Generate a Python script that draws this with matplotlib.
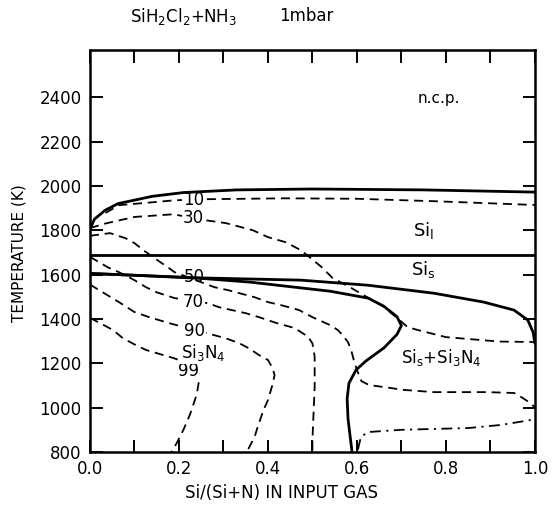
import matplotlib
matplotlib.use('Agg')
import matplotlib.pyplot as plt
from matplotlib.ticker import FixedLocator, FuncFormatter

plt.rcParams['font.family'] = ['DejaVu Sans']

# phase boundaries (solid)
liq_x = [0.0, 0.01, 0.034, 0.063, 0.14, 0.21, 0.33, 0.5, 0.75, 1.0]
liq_T = [1805, 1850, 1890, 1920, 1953, 1970, 1982, 1986, 1982, 1972]

melt_T = 1690

sis_x = [0.0, 0.1, 0.25, 0.474, 0.625, 0.773, 0.885, 0.953, 0.984, 0.996, 1.0]
sis_T = [1605, 1597, 1585, 1575, 1552, 1516, 1476, 1440, 1395, 1340, 1290]

nose_x = [0.0, 0.1, 0.25, 0.36, 0.54, 0.625, 0.66, 0.69, 0.70, 0.69, 0.661, 0.62, 0.598, 0.582, 0.578, 0.58, 0.589]
nose_T = [1605, 1597, 1583, 1566, 1525, 1494, 1458, 1410, 1370, 1330, 1270, 1210, 1170, 1110, 1040, 950, 800]

# yield contours (dashed)
c10_x = [0.035, 0.065, 0.14, 0.19, 0.26, 0.44, 0.6, 0.773, 1.0]
c10_T = [1878, 1913, 1926, 1935, 1940, 1944, 1942, 1931, 1914]

c30_x = [0.0, 0.036, 0.1, 0.187, 0.26, 0.306, 0.366, 0.40, 0.44, 0.474, 0.50, 0.52, 0.545, 0.587,
         0.63, 0.66, 0.69, 0.714, 0.737, 0.80, 0.92, 1.0]
c30_T = [1810, 1831, 1860, 1872, 1845, 1832, 1800, 1769, 1746, 1710, 1668, 1635, 1585, 1540,
         1490, 1455, 1405, 1363, 1350, 1318, 1298, 1296]

c50_x = [0.0, 0.045, 0.08, 0.1, 0.12, 0.145, 0.175, 0.19, 0.28, 0.31, 0.37, 0.40, 0.43, 0.47,
         0.50, 0.54, 0.557, 0.568, 0.58, 0.587, 0.593, 0.60, 0.61, 0.627, 0.66, 0.705, 0.773,
         0.894, 0.953, 0.962, 0.99, 1.0]
c50_T = [1775, 1787, 1764, 1742, 1710, 1674, 1633, 1611, 1543, 1530, 1498, 1476, 1462, 1440,
         1408, 1372, 1350, 1327, 1295, 1260, 1214, 1170, 1120, 1102, 1093, 1080, 1070,
         1070, 1066, 1057, 1021, 1000]

c70_x = [0.0, 0.04, 0.065, 0.1, 0.126, 0.15, 0.19, 0.265, 0.29, 0.35, 0.38, 0.42, 0.46, 0.49,
         0.50, 0.505, 0.505, 0.505, 0.502, 0.50, 0.50]
c70_T = [1680, 1633, 1611, 1575, 1543, 1520, 1494, 1471, 1453, 1426, 1408, 1381, 1359, 1320,
         1290, 1230, 1170, 1093, 950, 854, 800]

c90_x = [0.0, 0.065, 0.1, 0.133, 0.178, 0.305, 0.335, 0.357, 0.38, 0.40, 0.41, 0.415, 0.41,
         0.40, 0.39, 0.377, 0.37, 0.357, 0.353]
c90_T = [1555, 1476, 1431, 1408, 1381, 1313, 1291, 1268, 1237, 1215, 1180, 1147, 1102,
         1034, 989, 913, 868, 818, 800]

c99_x = [0.0, 0.052, 0.074, 0.103, 0.126, 0.187, 0.235, 0.245, 0.24, 0.225, 0.21, 0.195, 0.183]
c99_T = [1405, 1350, 1313, 1282, 1260, 1224, 1190, 1120, 1060, 970, 900, 840, 800]

# dash-dot boundary, lower right
dd_x = [0.602, 0.609, 0.625, 0.70, 0.85, 0.924, 0.99, 1.0]
dd_T = [810, 868, 890, 900, 908, 922, 944, 948]

fig = plt.figure(figsize=(5.52, 5.07), dpi=100)
ax = fig.add_axes([0.163, 0.1085, 0.806, 0.7925])

solid = dict(color='black', lw=2.0, solid_capstyle='round', zorder=4)
dash = dict(color='black', lw=1.3, dashes=(5, 3.2), zorder=2)

ax.plot(liq_x, liq_T, **solid)
ax.plot([0, 1], [melt_T, melt_T], **solid)
ax.plot(sis_x, sis_T, **solid)
ax.plot(nose_x, nose_T, **solid)

for cx, cT in [(c10_x, c10_T), (c30_x, c30_T), (c50_x, c50_T),
               (c70_x, c70_T), (c90_x, c90_T), (c99_x, c99_T)]:
    ax.plot(cx, cT, **dash)

ax.plot(dd_x, dd_T, color='black', lw=1.3, dashes=(6, 3, 1.2, 3), zorder=2)

# contour labels, white box cuts the dashes but sits under the solid lines
lab = dict(fontsize=12, ha='center', va='center', zorder=3,
           bbox=dict(boxstyle='square,pad=0.05', fc='white', ec='none'))
ax.text(0.232, 1938, '10', **lab)
ax.text(0.232, 1855, '30', **lab)
ax.text(0.235, 1588, '50', fontsize=12, ha='center', va='center', zorder=5)
ax.text(0.232, 1476, '70', **lab)
ax.text(0.235, 1345, '90', **lab)
ax.text(0.222, 1165, '99', **lab)
ax.text(0.255, 1248, 'Si$_3$N$_4$', **lab)

ax.text(0.785, 2395, 'n.c.p.', fontsize=11, ha='center', va='center')
ax.text(0.75, 1800, 'Si$_\\mathrm{l}$', fontsize=13, ha='center', va='center')
ax.text(0.75, 1625, 'Si$_\\mathrm{s}$', fontsize=13, ha='center', va='center')
ax.text(0.79, 1228, 'Si$_\\mathrm{s}$+Si$_3$N$_4$', fontsize=12, ha='center', va='center')

ax.set_xlim(0, 1)
ax.set_ylim(800, 2612)

ax.xaxis.set_major_locator(FixedLocator([i / 10 for i in range(11)]))
ax.xaxis.set_major_formatter(FuncFormatter(lambda v, p: f'{v:.1f}' if round(v * 10) % 2 == 0 else ''))
ax.yaxis.set_major_locator(FixedLocator(list(range(800, 2401, 200))))
ax.tick_params(direction='in', length=9, width=1.4, top=True, right=True,
               labelsize=12, pad=6)
for s in ax.spines.values():
    s.set_linewidth(1.8)

fig.text(0.035, 0.5, 'TEMPERATURE (K)', rotation=90, fontsize=11,
         ha='center', va='center')
fig.text(0.51, 0.027, 'Si/(Si+N) IN INPUT GAS', fontsize=12, ha='center', va='center')
fig.text(0.235, 0.968, 'SiH$_2$Cl$_2$+NH$_3$', fontsize=12, ha='left', va='center')
fig.text(0.505, 0.968, '1mbar', fontsize=12, ha='left', va='center')

fig.savefig('out.png', dpi=100)
